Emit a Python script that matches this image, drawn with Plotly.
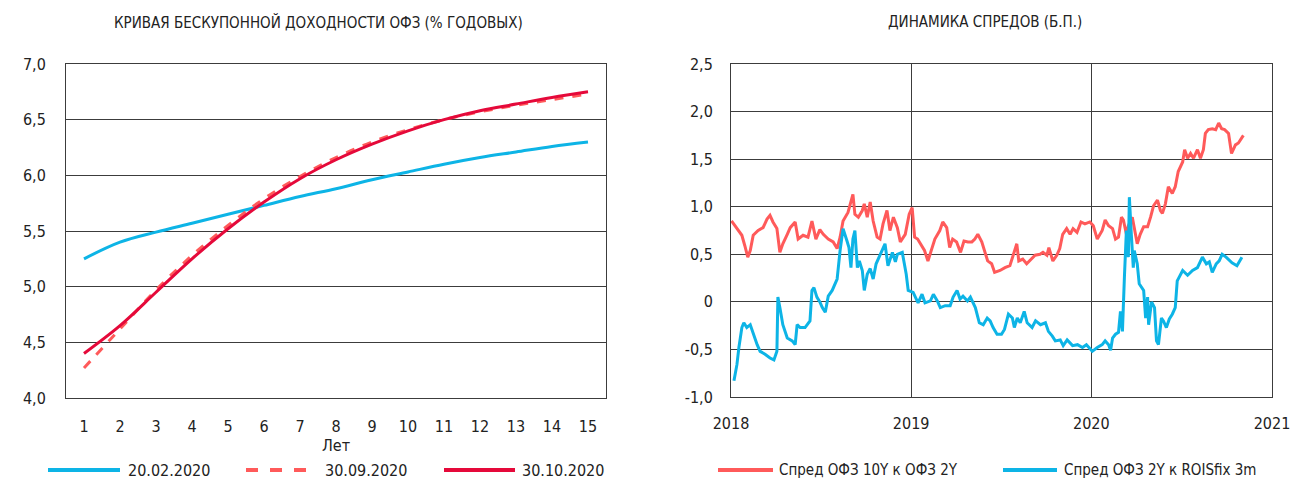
import plotly.graph_objects as go

FONT = "DejaVu Sans Condensed, Liberation Sans Narrow, Roboto, sans-serif"
W, H = 1293, 481

# --- left chart: zero-coupon OFZ yield curve ---
years = list(range(1, 16))
curve_20_02 = [5.25, 5.40, 5.49, 5.57, 5.65, 5.73, 5.81, 5.88, 5.96, 6.03, 6.10, 6.16, 6.21, 6.26, 6.30]
curve_30_09 = [4.27, 4.62, 4.97, 5.28, 5.55, 5.79, 5.99, 6.16, 6.30, 6.41, 6.50, 6.57, 6.63, 6.68, 6.73]
curve_30_10 = [4.40, 4.65, 4.95, 5.25, 5.52, 5.76, 5.97, 6.14, 6.28, 6.40, 6.50, 6.58, 6.64, 6.70, 6.75]

# --- right chart: spreads ---
spread_10y2y_dates = [
    "2018-01-02", "2018-01-09", "2018-01-15", "2018-01-23", "2018-01-29", "2018-02-04", "2018-02-09",
    "2018-02-15", "2018-02-25", "2018-03-07", "2018-03-15", "2018-03-21", "2018-03-27", "2018-04-04",
    "2018-04-10", "2018-04-16", "2018-04-25", "2018-05-01", "2018-05-11", "2018-05-17", "2018-05-27",
    "2018-06-06", "2018-06-14", "2018-06-22", "2018-06-30", "2018-07-07", "2018-07-17", "2018-07-27",
    "2018-08-04", "2018-08-10", "2018-08-16", "2018-08-26", "2018-09-05", "2018-09-09", "2018-09-16",
    "2018-09-24", "2018-09-28", "2018-10-04", "2018-10-10", "2018-10-16", "2018-10-24", "2018-10-30",
    "2018-11-05", "2018-11-13", "2018-11-19", "2018-11-26", "2018-12-04", "2018-12-10", "2018-12-20",
    "2018-12-28", "2019-01-03", "2019-01-08", "2019-01-14", "2019-01-22", "2019-01-28", "2019-02-04",
    "2019-02-12", "2019-02-18", "2019-02-28", "2019-03-06", "2019-03-14", "2019-03-20", "2019-03-26",
    "2019-04-03", "2019-04-11", "2019-04-18", "2019-04-26", "2019-05-04", "2019-05-10", "2019-05-16",
    "2019-05-24", "2019-05-30", "2019-06-05", "2019-06-13", "2019-06-19", "2019-06-30", "2019-07-10",
    "2019-07-20", "2019-07-26", "2019-08-03", "2019-08-07", "2019-08-15", "2019-08-23", "2019-08-29",
    "2019-09-09", "2019-09-19", "2019-09-25", "2019-10-03", "2019-10-07", "2019-10-15", "2019-10-23",
    "2019-10-29", "2019-11-04", "2019-11-12", "2019-11-19", "2019-11-25", "2019-12-03", "2019-12-11",
    "2019-12-19", "2019-12-29", "2020-01-05", "2020-01-13", "2020-01-23", "2020-01-29", "2020-02-05",
    "2020-02-13", "2020-02-19", "2020-02-25", "2020-03-02", "2020-03-06", "2020-03-12", "2020-03-16",
    "2020-03-24", "2020-04-03", "2020-04-09", "2020-04-16", "2020-04-24", "2020-04-30", "2020-05-06",
    "2020-05-14", "2020-05-20", "2020-05-24", "2020-05-30", "2020-06-05", "2020-06-13", "2020-06-19",
    "2020-06-25", "2020-07-04", "2020-07-08", "2020-07-14", "2020-07-20", "2020-07-26", "2020-08-03",
    "2020-08-09", "2020-08-15", "2020-08-19", "2020-08-25", "2020-09-02", "2020-09-09", "2020-09-15",
    "2020-09-21", "2020-09-27", "2020-10-05", "2020-10-11", "2020-10-19", "2020-10-25", "2020-11-04",
]
spread_10y2y = [
    0.85, 0.80, 0.75, 0.70, 0.59, 0.47, 0.54,
    0.70, 0.75, 0.78, 0.87, 0.91, 0.84, 0.77,
    0.52, 0.61, 0.71, 0.78, 0.84, 0.66, 0.70,
    0.68, 0.85, 0.66, 0.76, 0.71, 0.66, 0.63,
    0.56, 0.68, 0.85, 0.94, 1.13, 0.92, 0.89,
    0.96, 1.03, 0.89, 1.05, 0.85, 0.68, 0.66,
    0.82, 0.96, 0.75, 0.89, 0.78, 0.63, 0.71,
    0.92, 0.99, 0.68, 0.66, 0.59, 0.54, 0.43,
    0.56, 0.66, 0.75, 0.84, 0.78, 0.57, 0.66,
    0.63, 0.52, 0.64, 0.63, 0.63, 0.66, 0.71,
    0.63, 0.54, 0.43, 0.40, 0.31, 0.33, 0.36,
    0.38, 0.47, 0.61, 0.43, 0.45, 0.40, 0.43,
    0.49, 0.50, 0.52, 0.49, 0.57, 0.43, 0.49,
    0.56, 0.71, 0.77, 0.71, 0.77, 0.73, 0.84,
    0.82, 0.84, 0.80, 0.66, 0.75, 0.86, 0.80,
    0.77, 0.66, 0.68, 0.89, 0.86, 0.71, 0.80,
    0.89, 0.61, 0.71, 0.79, 0.79, 0.89, 1.01,
    1.07, 0.96, 0.93, 1.03, 1.21, 1.14, 1.21,
    1.37, 1.47, 1.60, 1.51, 1.56, 1.51, 1.60,
    1.51, 1.60, 1.77, 1.81, 1.82, 1.81, 1.88,
    1.82, 1.81, 1.77, 1.56, 1.65, 1.67, 1.75,
]

spread_2y_rois_dates = [
    "2018-01-07", "2018-01-13", "2018-01-17", "2018-01-23", "2018-01-27", "2018-02-02", "2018-02-09",
    "2018-02-15", "2018-02-23", "2018-03-01", "2018-03-11", "2018-03-21", "2018-03-29", "2018-04-04",
    "2018-04-06", "2018-04-10", "2018-04-16", "2018-04-25", "2018-05-05", "2018-05-11", "2018-05-15",
    "2018-05-21", "2018-05-31", "2018-06-10", "2018-06-14", "2018-06-18", "2018-06-24", "2018-06-30",
    "2018-07-05", "2018-07-11", "2018-07-17", "2018-07-25", "2018-07-31", "2018-08-04", "2018-08-10",
    "2018-08-16", "2018-08-24", "2018-08-28", "2018-09-01", "2018-09-05", "2018-09-09", "2018-09-14",
    "2018-09-18", "2018-09-24", "2018-09-28", "2018-10-04", "2018-10-10", "2018-10-16", "2018-10-22",
    "2018-10-30", "2018-11-09", "2018-11-15", "2018-11-24", "2018-11-30", "2018-12-04", "2018-12-14",
    "2018-12-22", "2018-12-26", "2019-01-05", "2019-01-15", "2019-01-23", "2019-01-29", "2019-02-09",
    "2019-02-15", "2019-02-23", "2019-03-01", "2019-03-11", "2019-03-21", "2019-03-27", "2019-04-04",
    "2019-04-10", "2019-04-16", "2019-04-25", "2019-05-01", "2019-05-11", "2019-05-19", "2019-05-27",
    "2019-06-04", "2019-06-10", "2019-06-16", "2019-06-24", "2019-07-03", "2019-07-09", "2019-07-17",
    "2019-07-25", "2019-07-29", "2019-08-04", "2019-08-10", "2019-08-18", "2019-08-24", "2019-09-03",
    "2019-09-10", "2019-09-20", "2019-09-30", "2019-10-06", "2019-10-14", "2019-10-20", "2019-10-30",
    "2019-11-05", "2019-11-13", "2019-11-24", "2019-12-04", "2019-12-14", "2019-12-22", "2020-01-03",
    "2020-01-13", "2020-01-23", "2020-01-29", "2020-02-05", "2020-02-09", "2020-02-13", "2020-02-19",
    "2020-02-25", "2020-02-29", "2020-03-04", "2020-03-08", "2020-03-12", "2020-03-16", "2020-03-18",
    "2020-03-22", "2020-03-26", "2020-03-28", "2020-04-03", "2020-04-07", "2020-04-13", "2020-04-16",
    "2020-04-20", "2020-04-24", "2020-04-26", "2020-05-02", "2020-05-08", "2020-05-12", "2020-05-16",
    "2020-05-22", "2020-05-26", "2020-06-01", "2020-06-07", "2020-06-13", "2020-06-19", "2020-06-23",
    "2020-06-27", "2020-07-04", "2020-07-14", "2020-07-24", "2020-08-03", "2020-08-13", "2020-08-21",
    "2020-08-27", "2020-09-02", "2020-09-10", "2020-09-16", "2020-09-22", "2020-09-30", "2020-10-12",
    "2020-10-22", "2020-11-01",
]
spread_2y_rois = [
    -0.83, -0.66, -0.48, -0.27, -0.22, -0.27, -0.24,
    -0.34, -0.45, -0.52, -0.55, -0.59, -0.61, -0.52,
    0.05, -0.06, -0.24, -0.38, -0.41, -0.45, -0.24,
    -0.27, -0.27, -0.20, 0.12, 0.15, 0.05, 0.00,
    -0.06, -0.11, 0.06, 0.12, 0.19, 0.24, 0.54,
    0.77, 0.64, 0.57, 0.36, 0.66, 0.75, 0.36,
    0.43, 0.33, 0.12, 0.29, 0.35, 0.24, 0.40,
    0.50, 0.61, 0.38, 0.52, 0.42, 0.50, 0.52,
    0.29, 0.12, 0.10, -0.01, 0.08, -0.01, 0.01,
    0.08, 0.01, -0.06, -0.04, -0.04, 0.05, 0.12,
    0.03, 0.06, 0.01, 0.05, -0.06, -0.22, -0.24,
    -0.17, -0.20, -0.27, -0.34, -0.34, -0.29, -0.13,
    -0.17, -0.27, -0.17, -0.22, -0.10, -0.22, -0.27,
    -0.20, -0.24, -0.22, -0.31, -0.36, -0.41, -0.40,
    -0.46, -0.40, -0.46, -0.45, -0.48, -0.45, -0.52,
    -0.48, -0.45, -0.41, -0.45, -0.51, -0.38, -0.34,
    -0.32, -0.10, -0.31, 0.26, 0.75, 0.47, 1.10,
    0.71, 0.36, 0.54, 0.40, 0.19, 0.15, 0.12,
    -0.17, 0.05, -0.24, 0.00, -0.06, -0.41, -0.45,
    -0.17, -0.20, -0.27, -0.18, -0.13, -0.06, 0.22,
    0.26, 0.33, 0.28, 0.33, 0.36, 0.47, 0.40,
    0.42, 0.31, 0.40, 0.43, 0.50, 0.47, 0.41,
    0.38, 0.47,
]

right_ytick_vals = [-1.0, -0.5, 0, 0.5, 1.0, 1.5, 2.0, 2.5]
right_ytick_text = ["-1,0", "-0,5", "0", "0,5", "1,0", "1,5", "2,0", "2,5"]

BLUE = "#0DB4E6"
RED_LIGHT = "#FF5A5A"
RED = "#E5093A"
GRID = "#3c3c3c"
TXT = "#222"

fig = go.Figure()

left_series = [
    ("20.02.2020", curve_20_02, BLUE, "solid"),
    ("30.09.2020", curve_30_09, RED_LIGHT, "dash"),
    ("30.10.2020", curve_30_10, RED, "solid"),
]
for name, vals, color, dash in left_series:
    fig.add_trace(go.Scatter(x=years, y=vals, name=name, mode="lines", showlegend=False,
                             line=dict(color=color, width=3, dash=dash, shape="spline"),
                             xaxis="x", yaxis="y"))

right_series = [
    ("Спред ОФЗ 10Y к ОФЗ 2Y", spread_10y2y_dates, spread_10y2y, RED_LIGHT),
    ("Спред ОФЗ 2Y к ROISfix 3m", spread_2y_rois_dates, spread_2y_rois, BLUE),
]
for name, dates, vals, color in right_series:
    fig.add_trace(go.Scatter(x=dates, y=vals, name=name, mode="lines", showlegend=False,
                             line=dict(color=color, width=3),
                             xaxis="x2", yaxis="y2"))

# hand-drawn legends (longer key lines than plotly's built-in legend)
legend_y = 1 - 470 / H
legend_items = [
    # text, colour, dash, line x0, line x1, text x, font size (pixels)
    ("20.02.2020", BLUE, "solid", 48, 120, 126, 16),
    ("30.09.2020", RED_LIGHT, "dash", 246, 318, 323, 16),
    ("30.10.2020", RED, "solid", 444, 515, 520, 16),
    ("Спред ОФЗ 10Y к ОФЗ 2Y", RED_LIGHT, "solid", 718, 773, 777, 15),
    ("Спред ОФЗ 2Y к ROISfix 3m", BLUE, "solid", 1003, 1057, 1062, 15),
]
shapes = []
annotations = []
for text, color, dash, x0, x1, tx, fs in legend_items:
    shapes.append(dict(type="line", xref="paper", yref="paper", x0=x0 / W, x1=x1 / W,
                       y0=legend_y, y1=legend_y, line=dict(color=color, width=4, dash=dash)))
    annotations.append(dict(text=text, x=tx / W, y=legend_y, xref="paper", yref="paper",
                            showarrow=False, xanchor="left", yanchor="middle",
                            font=dict(size=fs, color=TXT)))

annotations += [
    dict(text="КРИВАЯ БЕСКУПОННОЙ ДОХОДНОСТИ ОФЗ (% ГОДОВЫХ)", x=318 / W, y=1 - 22 / H,
         xref="paper", yref="paper", showarrow=False, font=dict(size=15, color=TXT),
         xanchor="center", yanchor="middle"),
    dict(text="ДИНАМИКА СПРЕДОВ (Б.П.)", x=985 / W, y=1 - 22 / H,
         xref="paper", yref="paper", showarrow=False, font=dict(size=15, color=TXT),
         xanchor="center", yanchor="middle"),
]

axis_common = dict(showline=True, linecolor=GRID, linewidth=1, mirror=True, automargin=False,
                   tickfont=dict(size=16, color=TXT), zeroline=False)

fig.update_layout(
    width=W, height=H,
    margin=dict(l=0, r=0, t=0, b=0, autoexpand=False),
    paper_bgcolor="white", plot_bgcolor="white",
    font=dict(family=FONT, size=16, color=TXT),
    separators=", ",
    shapes=shapes,
    annotations=annotations,
    xaxis=dict(domain=[66 / W, 606 / W], anchor="y", range=[0.5, 15.5], tickvals=years,
               showgrid=False, ticks="outside", ticklen=14, tickcolor="rgba(0,0,0,0)",
               title=dict(text="Лет", font=dict(size=16), standoff=2), **axis_common),
    yaxis=dict(domain=[1 - 398 / H, 1 - 64 / H], anchor="x", range=[4.0, 7.0], dtick=0.5,
               tickformat=".1f", showgrid=True, gridcolor=GRID, gridwidth=1,
               ticks="outside", ticklen=16, tickcolor="rgba(0,0,0,0)", **axis_common),
    xaxis2=dict(domain=[731 / W, 1272 / W], anchor="y2", type="date",
                range=["2018-01-01", "2021-01-01"],
                tickvals=["2018-01-01", "2019-01-01", "2020-01-01", "2021-01-01"],
                ticktext=["2018", "2019", "2020", "2021"],
                showgrid=True, gridcolor=GRID, gridwidth=1,
                ticks="outside", ticklen=12, tickcolor="rgba(0,0,0,0)", **axis_common),
    yaxis2=dict(domain=[1 - 397 / H, 1 - 64 / H], anchor="x2", range=[-1.0, 2.5],
                tickvals=right_ytick_vals, ticktext=right_ytick_text,
                showgrid=True, gridcolor=GRID, gridwidth=1,
                ticks="outside", ticklen=14, tickcolor="rgba(0,0,0,0)", **axis_common),
)

fig.write_html("out.html", config={"displayModeBar": False},
               post_script="document.body.style.margin='0';document.body.style.overflow='hidden';")
